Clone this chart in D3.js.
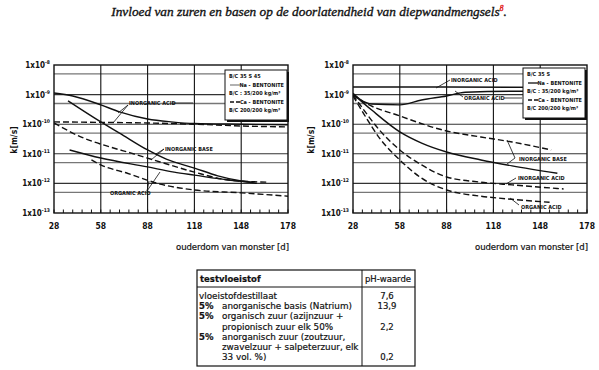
<!DOCTYPE html>
<html>
<head>
<meta charset="utf-8">
<script src="https://cdn.jsdelivr.net/npm/d3@7/dist/d3.min.js"></script>
<style>
  body { margin: 0; background: #fff; }
  svg { display: block; }
  .cond { font-family: "DejaVu Sans Condensed", "DejaVu Sans", sans-serif; font-stretch: condensed; font-weight: bold; }
</style>
</head>
<body>
<div id="chart"></div>
<script>
// ---- data -------------------------------------------------------------
const dayTicks = [28, 58, 88, 118, 148, 178];
const kTicks = [1e-8, 1e-9, 1e-10, 1e-11, 1e-12, 1e-13];
const kTickExp = ['-8', '-9', '-10', '-11', '-12', '-13'];
const kHalfLines = [5e-9, 5e-10, 5e-11, 5e-12, 5e-13];

// left chart (B/C 35 S 45): [day, k]
const leftInorgAcidNa = [[28, 1.13e-9], [40, 9.0e-10], [58, 4.5e-10], [70, 2.6e-10], [88, 1.5e-10], [103, 1.2e-10], [118, 1.05e-10], [148, 1.0e-10], [178, 9.6e-11]];
const leftInorgAcidCa = [[28, 1.2e-10], [58, 1.15e-10], [88, 1.1e-10], [118, 1.0e-10], [148, 8.7e-11], [178, 8.1e-11]];
const leftInorgBaseNa = [[37, 6.1e-10], [58, 1.19e-10], [70, 5.0e-11], [88, 1.35e-11], [100, 6.6e-12], [118, 3.3e-12], [133, 1.8e-12], [148, 1.2e-12], [158, 1.0e-12]];
const leftInorgBaseCa = [[28, 1.1e-10], [47, 3.4e-11], [64, 1.7e-11], [77, 1.07e-11], [96, 5.3e-12], [118, 2.4e-12], [140, 1.3e-12], [165, 1.1e-12]];
const leftOrgAcidNa = [[38, 1.35e-11], [58, 7.2e-12], [88, 3.6e-12], [105, 2.4e-12], [118, 1.9e-12], [140, 1.3e-12], [155, 1.1e-12]];
const leftOrgAcidCa = [[52, 6.2e-12], [58, 4.2e-12], [75, 2.2e-12], [96, 9.5e-13], [118, 6.0e-13], [148, 4.8e-13], [178, 3.7e-13]];

// right chart (B/C 35 S): [day, k]
const rightInorgAcidNa = [[28, 1.8e-9], [88, 1.8e-9], [178, 1.75e-9]];
const rightOrgAcidNa = [[28, 1.1e-9], [33, 6.6e-10], [40, 4.8e-10], [58, 4.5e-10], [72, 6.6e-10], [88, 9.0e-10], [100, 1.2e-9], [130, 1.3e-9], [178, 1.3e-9]];
const rightInorgBaseNa = [[28, 1.05e-9], [40, 3.0e-10], [58, 5.5e-11], [72, 2.3e-11], [88, 1.15e-11], [110, 6.2e-12], [130, 3.9e-12], [159, 2.2e-12]];
const rightInorgBaseCa = [[28, 1.0e-9], [35, 5.6e-10], [58, 1.9e-10], [88, 5.9e-11], [110, 3.7e-11], [130, 2.5e-11], [155, 1.35e-11]];
const rightInorgAcidCa = [[28, 1.0e-9], [35, 3.0e-10], [45, 6.3e-11], [58, 1.35e-11], [72, 4.2e-12], [88, 1.65e-12], [110, 1.1e-12], [130, 8.9e-13], [163, 6.5e-13]];
const rightOrgAcidCa = [[28, 9.0e-10], [35, 2.2e-10], [45, 3.4e-11], [58, 6.2e-12], [72, 1.5e-12], [88, 6.0e-13], [110, 3.7e-13], [130, 2.9e-13], [154, 2.3e-13]];

const leftLegend = ['B/C  35 S 45', 'Na - BENTONITE', 'B/C : 35/200 kg/m³', 'Ca - BENTONITE', 'B/C  200/200 kg/m³'];
const rightLegend = ['B/C  35 S', 'Na - BENTONITE', 'B/C : 35/200 kg/m³', 'Ca - BENTONITE', 'B/C  200/200 kg/m³'];

const tableHead = ['testvloeistof', 'pH-waarde'];
const tableRows = [
  ['', 'vloeistofdestillaat', '7,6'],
  ['5%', 'anorganische basis (Natrium)', '13,9'],
  ['5%', 'organisch zuur (azijnzuur +', ''],
  ['', 'propionisch zuur elk 50%', '2,2'],
  ['5%', 'anorganisch zuur (zoutzuur,', ''],
  ['', 'zwavelzuur + salpeterzuur, elk', ''],
  ['', '33 vol. %)', '0,2']
];

// ---- drawing ----------------------------------------------------------
const svg = d3.select('#chart').append('svg').attr('width', 599).attr('height', 370);

/* Title
=========================================================================*/
const title = svg.append('text')
  .attr('x', 309).attr('y', 16)
  .attr('text-anchor', 'middle')
  .style('font-family', '"Liberation Serif", "DejaVu Serif", serif')
  .style('font-style', 'italic')
  .style('font-size', '13.3px')
  .attr('fill', '#111')
  .attr('stroke', '#111')
  .attr('stroke-width', 0.35);
title.append('tspan').text('Invloed van zuren en basen op de doorlatendheid van diepwandmengsels');
title.append('tspan').attr('dy', -5).style('font-size', '7.5px').attr('fill', '#e01010').attr('stroke', '#e01010').text('8');
title.append('tspan').attr('dy', 5).text('.');

function drawChart(opt) {
  const x = d3.scaleLinear().domain([28, 178]).range([opt.x0, opt.x1]);
  const y = d3.scaleLog().domain([1e-13, 1e-8]).range([213, 65]);
  const g = svg.append('g');
  const clipId = 'clip' + opt.x0;

  g.append('clipPath').attr('id', clipId).append('rect')
    .attr('x', opt.x0).attr('y', 65).attr('width', opt.x1 - opt.x0).attr('height', 148);

  // grid
  g.selectAll('.hhalf').data(kHalfLines).enter().append('line')
    .attr('x1', opt.x0).attr('x2', opt.x1)
    .attr('y1', d => y(d)).attr('y2', d => y(d))
    .attr('stroke', '#777').attr('stroke-width', 1.3);
  g.selectAll('.hdec').data(kTicks.slice(1, 5)).enter().append('line')
    .attr('x1', opt.x0).attr('x2', opt.x1)
    .attr('y1', d => y(d)).attr('y2', d => y(d))
    .attr('stroke', '#333').attr('stroke-width', 1.1);
  g.selectAll('.vgrid').data(dayTicks.slice(1, 5)).enter().append('line')
    .attr('x1', d => x(d)).attr('x2', d => x(d))
    .attr('y1', 65).attr('y2', 213)
    .attr('stroke', '#111').attr('stroke-width', 1.1);

  // minor ticks on bottom axis
  g.selectAll('.minor').data(d3.range(28, 179, 6)).enter().append('line')
    .attr('x1', d => x(d)).attr('x2', d => x(d))
    .attr('y1', 213).attr('y2', 209.5)
    .attr('stroke', '#111').attr('stroke-width', 1);

  // frame
  g.append('rect').attr('x', opt.x0).attr('y', 65).attr('width', opt.x1 - opt.x0).attr('height', 148)
    .attr('fill', 'none').attr('stroke', '#111').attr('stroke-width', 1.4);

  // curves
  const line = d3.line().x(d => x(d[0])).y(d => y(d[1])).curve(d3.curveMonotoneX);
  const curves = g.append('g').attr('clip-path', `url(#${clipId})`);
  opt.series.forEach(s => {
    curves.append('path')
      .attr('d', line(s.data))
      .attr('fill', 'none')
      .attr('stroke', '#111')
      .attr('stroke-width', 1.4)
      .attr('stroke-dasharray', s.dashed ? '6,3' : null);
  });

  // y tick labels
  const yl = g.selectAll('.ylab').data(kTicks).enter().append('text')
    .attr('class', 'cond')
    .attr('x', opt.x0 - 4).attr('y', d => y(d) + 3)
    .attr('text-anchor', 'end')
    .style('font-size', '8px')
    .attr('fill', '#111');
  yl.append('tspan').text('1x10');
  yl.append('tspan').attr('dy', -4).style('font-size', '5px').text((d, i) => kTickExp[i]);

  // x tick labels
  g.selectAll('.xlab').data(dayTicks).enter().append('text')
    .attr('class', 'cond')
    .attr('x', d => x(d)).attr('y', 229)
    .attr('text-anchor', 'middle')
    .style('font-size', '8.5px')
    .attr('fill', '#111')
    .text(d => d);

  // axis titles
  g.append('text')
    .attr('x', opt.x1 + 1).attr('y', 250)
    .attr('text-anchor', 'end')
    .style('font-family', '"DejaVu Sans", sans-serif')
    .style('font-size', '8.5px')
    .attr('textLength', 113)
    .attr('fill', '#111')
    .attr('stroke', '#111').attr('stroke-width', 0.2)
    .text('ouderdom van monster [d]');
  g.append('text')
    .attr('class', 'cond')
    .attr('transform', `translate(${opt.yTitleX},140) rotate(-90)`)
    .attr('text-anchor', 'middle')
    .style('font-size', '8.5px')
    .attr('fill', '#111')
    .text('k[m/s]');

  // annotations
  opt.notes.forEach(n => {
    g.append('text')
      .attr('class', 'cond')
      .attr('x', n.x).attr('y', n.y)
      .style('font-size', '5.5px')
      .attr('fill', '#111')
      .text(n.text);
    n.leaders.forEach(l => {
      g.append('line')
        .attr('x1', l[0]).attr('y1', l[1]).attr('x2', l[2]).attr('y2', l[3])
        .attr('stroke', '#111').attr('stroke-width', 0.8);
    });
  });

  // legend box
  const lx = opt.legendX, ly = opt.legendY, lw = 62, lh = 50;
  g.append('rect').attr('x', lx + 2).attr('y', ly + 2).attr('width', lw).attr('height', lh).attr('fill', '#111');
  g.append('rect').attr('x', lx).attr('y', ly).attr('width', lw).attr('height', lh)
    .attr('fill', '#fff').attr('stroke', '#111').attr('stroke-width', 1);
  const rowsY = [ly + 8, ly + 17, ly + 25, ly + 34, ly + 42];
  opt.legend.forEach((t, i) => {
    g.append('text')
      .attr('class', 'cond')
      .attr('x', i === 1 || i === 3 ? lx + lw - 3 : lx + 4)
      .attr('y', rowsY[i])
      .attr('text-anchor', i === 1 || i === 3 ? 'end' : 'start')
      .style('font-size', '5.5px')
      .attr('fill', '#111')
      .text(t);
  });
  g.append('line').attr('x1', lx + 5).attr('x2', lx + 15).attr('y1', rowsY[1] - 2).attr('y2', rowsY[1] - 2)
    .attr('stroke', opt.naGray ? '#888' : '#111').attr('stroke-width', 1.3);
  g.append('line').attr('x1', lx + 5).attr('x2', lx + 15).attr('y1', rowsY[3] - 2).attr('y2', rowsY[3] - 2)
    .attr('stroke', '#111').attr('stroke-width', 1.3).attr('stroke-dasharray', '4,2');
}

drawChart({
  x0: 54, x1: 288, yTitleX: 17, legendX: 225, legendY: 70, legend: leftLegend, naGray: true,
  series: [
    { data: leftInorgAcidNa, dashed: false },
    { data: leftInorgAcidCa, dashed: true },
    { data: leftInorgBaseNa, dashed: false },
    { data: leftInorgBaseCa, dashed: true },
    { data: leftOrgAcidNa, dashed: false },
    { data: leftOrgAcidCa, dashed: true }
  ],
  notes: [
    { text: 'INORGANIC ACID', x: 129, y: 105, leaders: [[172, 103, 193, 103], [128, 105, 118, 113], [128, 105, 113, 123]] },
    { text: 'INORGANIC BASE', x: 165, y: 151, leaders: [[164, 149, 156, 154], [164, 149, 151, 160]] },
    { text: 'ORGANIC ACID', x: 110, y: 195, leaders: [[147, 191, 149, 181], [147, 191, 160, 172]] }
  ]
});

drawChart({
  x0: 353, x1: 587, yTitleX: 314, legendX: 523, legendY: 68, legend: rightLegend, naGray: false,
  series: [
    { data: rightInorgAcidNa, dashed: false },
    { data: rightOrgAcidNa, dashed: false },
    { data: rightInorgBaseNa, dashed: false },
    { data: rightInorgBaseCa, dashed: true },
    { data: rightInorgAcidCa, dashed: true },
    { data: rightOrgAcidCa, dashed: true }
  ],
  notes: [
    { text: 'INORGANIC ACID', x: 451, y: 82, leaders: [[450, 80, 436, 88]] },
    { text: 'ORGANIC ACID', x: 464, y: 100, leaders: [[463, 97, 455, 91], [504, 98, 522, 98]] },
    { text: 'INORGANIC BASE', x: 519, y: 161, leaders: [[507, 140, 515, 158], [515, 158, 507, 164]] },
    { text: 'INORGANIC ACID', x: 518, y: 180, leaders: [[516, 178, 506, 184]] },
    { text: 'ORGANIC ACID', x: 521, y: 209, leaders: [[519, 205, 510, 198]] }
  ]
});

/* Table
=========================================================================*/
const t = svg.append('g').style('font-family', '"DejaVu Sans", sans-serif').attr('fill', '#111')
  .attr('stroke', '#111').attr('stroke-width', 0.2);
t.append('rect').attr('x', 197).attr('y', 270).attr('width', 218).attr('height', 96)
  .attr('fill', 'none').attr('stroke', '#111').attr('stroke-width', 1.2);
t.append('line').attr('x1', 197).attr('x2', 415).attr('y1', 287).attr('y2', 287).attr('stroke', '#111').attr('stroke-width', 1);
t.append('line').attr('x1', 362).attr('x2', 362).attr('y1', 270).attr('y2', 366).attr('stroke', '#111').attr('stroke-width', 1);
t.append('text').attr('x', 200).attr('y', 282).style('font-size', '8.5px').style('font-weight', 'bold').text(tableHead[0]);
t.append('text').attr('x', 388).attr('y', 282).attr('text-anchor', 'middle').style('font-size', '8.5px').text(tableHead[1]);

const rowY = d3.scaleLinear().domain([0, 6]).range([299, 360]);
tableRows.forEach((r, i) => {
  if (r[0]) t.append('text').attr('x', 199).attr('y', rowY(i)).style('font-size', '8.5px').style('font-weight', 'bold').text(r[0]);
  t.append('text').attr('x', i === 0 ? 199 : 222).attr('y', rowY(i)).style('font-size', '8.8px').text(r[1]);
  if (r[2]) t.append('text').attr('x', 387).attr('y', rowY(i)).attr('text-anchor', 'middle').style('font-size', '8.5px').text(r[2]);
});
</script>
</body>
</html>
